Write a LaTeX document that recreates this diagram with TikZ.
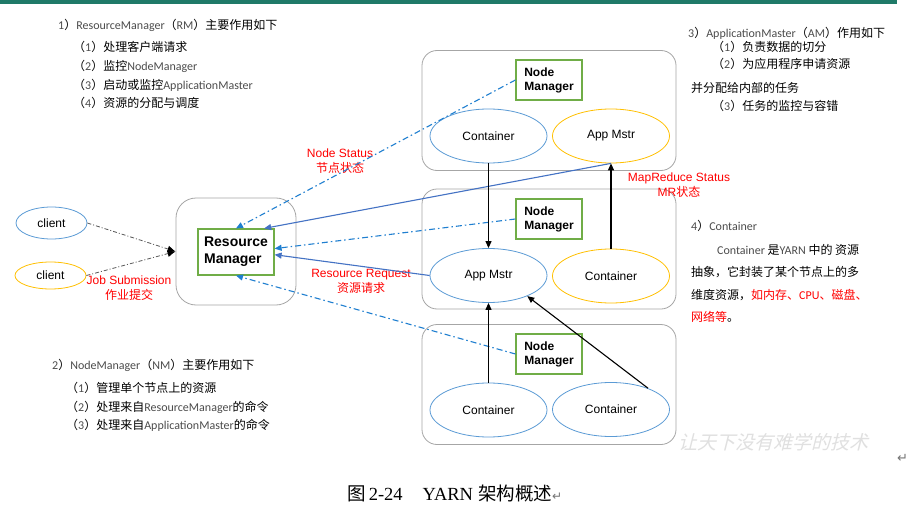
\documentclass[tikz,border=0pt]{standalone}
\usepackage{fontspec}
\setmainfont{Liberation Sans}
\newfontfamily\zh{Noto Sans CJK SC}
\newfontfamily\calib{Carlito}
\newfontfamily\tnr{Liberation Serif}
\newfontfamily\dvs{DejaVu Sans}
\newfontfamily\wmfont[FakeSlant=0.25]{Noto Sans CJK SC}
\usetikzlibrary{arrows.meta,positioning,shapes.geometric}
\definecolor{bar}{HTML}{1F7A68}
\definecolor{eb}{HTML}{5B9BD5}
\definecolor{ey}{HTML}{FFC000}
\definecolor{gbox}{HTML}{70AD47}
\definecolor{gframe}{HTML}{A6A6A6}
\definecolor{dd}{HTML}{1F7FD0}
\definecolor{sb}{HTML}{4472C4}
\definecolor{lbl}{HTML}{FF0000}
\newcommand{\en}[1]{{\calib\fontsize{12}{14}\selectfont\color{black!70}#1}}
\newcommand{\enr}[1]{{\calib\fontsize{12}{14}\selectfont\color{lbl}#1}}

\begin{document}
\begin{tikzpicture}[x=1pt,y=-1pt,font=\fontsize{12}{15}\selectfont,
  frame/.style={draw=gframe,line width=0.8pt,rounded corners=15pt,
    minimum width=254pt,minimum height=120pt,inner sep=0},
  rmbox/.style={draw=gbox,line width=1.2pt,minimum width=76pt,minimum height=46pt,
    align=left,inner sep=0,font=\bfseries\fontsize{14}{17}\selectfont},
  nmbox/.style={draw=gbox,line width=1.2pt,minimum width=66pt,minimum height=40pt,
    align=left,inner sep=0,font=\bfseries\fontsize{12}{14}\selectfont},
  ctb/.style={ellipse,draw=eb,line width=0.8pt,minimum width=117pt,minimum height=54pt,inner sep=0},
  cty/.style={ctb,draw=ey},
  lab/.style={text=lbl,align=center,inner sep=0,font=\fontsize{12}{15}\selectfont},
  txt/.style={anchor=west,inner sep=0,font=\zh\fontsize{12}{14}\selectfont},
  cli/.style={draw=black!65,line width=0.8pt,dash pattern=on 4pt off 2pt on 1pt off 2pt,
    -{Latex[length=8pt,width=7pt,color=black]}},
  ddl/.style={draw=dd,line width=1.1pt,dash pattern=on 6pt off 3pt on 1.5pt off 3pt,
    -{Triangle[length=7pt,width=6pt]}},
  sbl/.style={draw=sb,line width=1.1pt,-{Triangle[length=7pt,width=6pt]}},
  blk/.style={draw=black,line width=1.1pt,-{Triangle[length=7pt,width=6pt]}}]
  \fill[white] (0,0) rectangle (918,508);
  \useasboundingbox (0,0) rectangle (918,508);
  \fill[bar] (0,0) rectangle (897,4);

  \node[txt] (rmt) at (58,25) {\en{1}）\en{ResourceManager}（\en{RM}）主要作用如下};
  \node[txt] (rm1) at (73,47) {（\en{1}）处理客户端请求};
  \node[txt] (rm2) at (73,66) {（\en{2}）监控\en{NodeManager}};
  \node[txt] (rm3) at (73,85) {（\en{3}）启动或监控\en{ApplicationMaster}};
  \node[txt] (rm4) at (73,103) {（\en{4}）资源的分配与调度};

  \node[txt] (amt) at (688,33) {\en{3}）\en{ApplicationMaster}（\en{AM}）作用如下};
  \node[txt] (am1t) at (712,47) {（\en{1}）负责数据的切分};
  \node[txt] (am2t) at (712,64) {（\en{2}）为应用程序申请资源};
  \node[txt] (am3t) at (691,88) {并分配给内部的任务};
  \node[txt] (am4t) at (712,106) {（\en{3}）任务的监控与容错};

  \node[txt] (ct0) at (691,226) {\en{4}）\en{Container}};
  \node[txt] (ct1) at (717,250) {\en{Container} 是\en{YARN} 中的 资源};
  \node[txt] (ct2) at (691,272) {抽象，它封装了某个节点上的多};
  \node[txt] (ct3) at (691,295) {维度资源，{\color{lbl}如内存、\enr{CPU}、磁盘、}};
  \node[txt] (ct4) at (691,317) {{\color{lbl}网络等}。};

  \node[txt] (nmt) at (52,365) {\en{2}）\en{NodeManager}（\en{NM}）主要作用如下};
  \node[txt] (nm1t) at (66,388) {（\en{1}）管理单个节点上的资源};
  \node[txt] (nm2t) at (66,407) {（\en{2}）处理来自\en{ResourceManager}的命令};
  \node[txt] (nm3t) at (66,425) {（\en{3}）处理来自\en{ApplicationMaster}的命令};

  \node[frame] (n1) at (549,110.5) {};
  \node[frame] (n2) at (549,249) {};
  \node[frame] (n3) at (549,384.5) {};
  \node[frame,minimum width=120pt,minimum height=107pt,rounded corners=20pt] (rmo) at (236,251.5) {};
  \node[rmbox] (rm) at (236,252) {Resource\\Manager};
  \node[nmbox] (nm1) at (549,80) {Node\\Manager};
  \node[nmbox] (nm2) at (549,219) {Node\\Manager};
  \node[nmbox] (nm3) at (549,354) {Node\\Manager};
  \node[ctb] (c1) at (488.5,136) {Container};
  \node[cty] (am1) at (611,136) {App Mstr};
  \node[ctb] (am2) at (488.5,275.5) {App Mstr};
  \node[cty] (c2) at (611,276) {Container};
  \node[ctb] (c3) at (488.5,410) {Container};
  \node[ctb] (c4) at (611,409.5) {Container};
  \node[ctb,minimum width=71pt,minimum height=32pt] (cl1) at (51.5,223) {client};
  \node[cty,minimum width=71pt,minimum height=27pt] (cl2) at (50.5,275.5) {client};

  \node[lab] (lns) at (340,161.5) {Node Status\\{\zh 节点状态}};
  \node[lab] (lmr) at (679,185) {MapReduce Status\\MR{\zh 状态}};
  \node[lab] (ljs) at (129,288.5) {Job Submission\\{\zh 作业提交}};
  \node[lab] (lrr) at (361,281) {Resource Request\\{\zh 资源请求}};

  \draw[cli] (cl1.east) -- (rmo.west);
  \draw[cli] (cl2.east) -- (rmo.west);
  \draw[ddl] (nm1.west) -- (rm.north);
  \draw[ddl] (nm2.west) -- (rm.5);
  \draw[ddl] (nm3.west) -- (rm.south);
  \draw[sbl] (am1.south) -- (rm.40);
  \draw[sbl] (am2.west) -- (rm.-4);
  \draw[blk] (c1.south) -- (am2.north);
  \draw[blk] (c2.north) -- (am1.south);
  \draw[blk] (c3.north) -- (am2.south);
  \draw[blk] (c4.30) -- (am2.-28);

  \node[anchor=west,inner sep=0,text=black!12,font=\wmfont\fontsize{19}{19}\selectfont] (wm) at (678,442) {让天下没有难学的技术};
  \node[anchor=west,inner sep=0,text=black!55,font=\dvs\fontsize{13}{13}\selectfont] (pm) at (897,458) {↵};
  \node[anchor=west,inner sep=0,font=\fontsize{18.5}{18.5}\selectfont] (cap) at (347,493)
    {{\zh 图}\,{\tnr 2-24}\hspace{20pt}{\tnr YARN} {\zh 架构概述}{\dvs\color{black!55}\fontsize{12}{12}\selectfont ↵}};
\end{tikzpicture}
\end{document}
